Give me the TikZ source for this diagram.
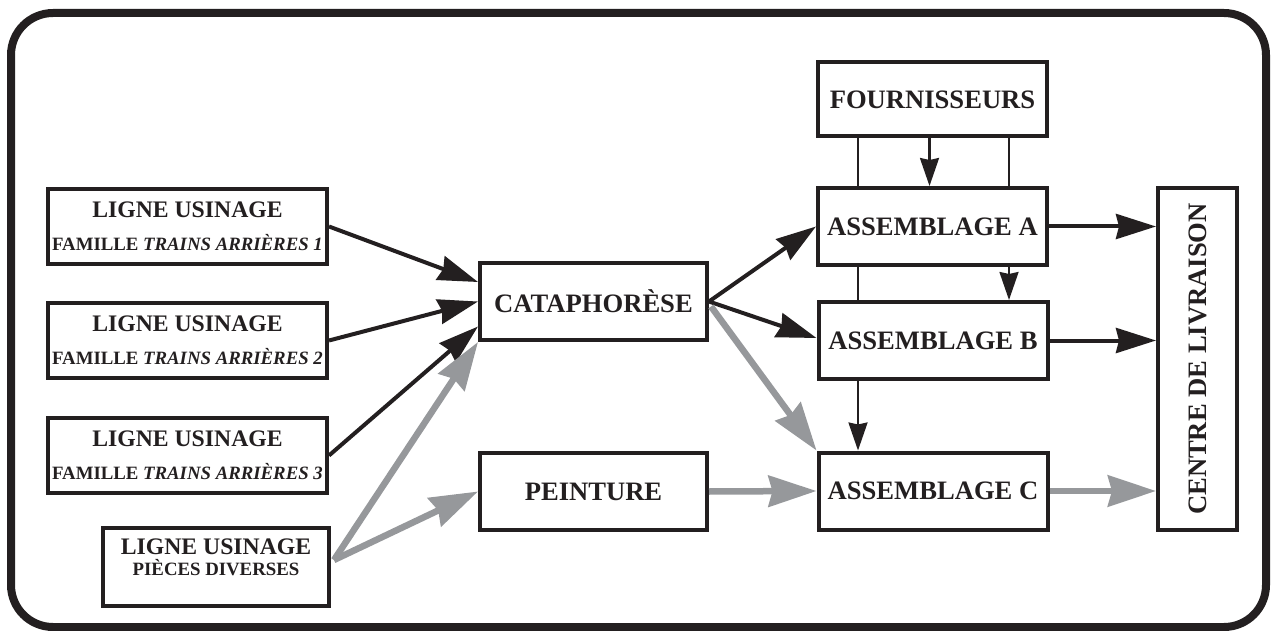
\documentclass[tikz,border=0pt]{standalone}
\usepackage{fontspec}
\usepackage{graphicx}
\setmainfont{Liberation Serif}
\usetikzlibrary{arrows.meta,backgrounds}

\definecolor{flowgray}{RGB}{150,152,155}
\definecolor{ink}{RGB}{35,31,32}

\tikzset{
  box/.style={draw=ink, line width=4pt, fill=white, inner sep=0pt,
    font=\bfseries\fontsize{26.6}{30}\selectfont, text=ink},
  linebox/.style={box, minimum width=279pt, minimum height=75pt, align=center,
    font=\bfseries\fontsize{23.7}{33}\selectfont},
  blackflow/.style={draw=ink, line width=4pt,
    -{Stealth[length=40pt,width=25pt,inset=3pt]}},
  grayflow/.style={draw=flowgray, line width=6.5pt,
    -{Stealth[length=48pt,width=31pt,inset=4pt]}},
  supply/.style={draw=ink, line width=2.2pt},
  supplyarrow/.style={supply, -{Stealth[length=28pt,width=19pt,inset=2pt]}}
}
\newcommand{\subline}[1]{{\fontsize{18.8}{33}\selectfont #1}}

\begin{document}
\begin{tikzpicture}[x=1pt, y=-1pt]
\useasboundingbox (0,0) rectangle (1272,631);
\draw[ink, line width=8pt, rounded corners=42pt] (11,13) rectangle (1266,627);

% machining lines
\node[linebox] (l1) at (187.5,226.5) {LIGNE USINAGE\\\subline{FAMILLE \textit{TRAINS ARRIÈRES 1}}};
\node[linebox] (l2) at (187.5,340.5) {LIGNE USINAGE\\\subline{FAMILLE \textit{TRAINS ARRIÈRES 2}}};
\node[linebox] (l3) at (187.5,455.5) {LIGNE USINAGE\\\subline{FAMILLE \textit{TRAINS ARRIÈRES 3}}};
\node[linebox, minimum width=226pt, minimum height=78pt,
  font=\bfseries\fontsize{23.7}{21}\selectfont] (l4) at (216,567)
  {LIGNE USINAGE\\{\fontsize{18.8}{21}\selectfont PIÈCES DIVERSES}\rule[-20pt]{0pt}{0pt}};

% surface treatment
\node[box, minimum width=227pt, minimum height=77pt] (cata) at (593.5,301.5) {CATAPHORÈSE};
\node[box, minimum width=227pt, minimum height=77pt] (peint) at (593.5,491.5) {PEINTURE};

% suppliers and assembly
\node[box, minimum width=229pt, minimum height=74pt] (four) at (932.5,99.5) {FOURNISSEURS};
\node[box, minimum width=229pt, minimum height=77pt] (asa) at (932.5,226.5) {ASSEMBLAGE A};
\node[box, minimum width=229pt, minimum height=77pt] (asb) at (933,340.5) {ASSEMBLAGE B};
\node[box, minimum width=229pt, minimum height=77pt] (asc) at (933,491) {ASSEMBLAGE C};

% delivery
\node[box, minimum width=79pt, minimum height=342pt] (centre) at (1197.5,359)
  {\rotatebox{90}{CENTRE DE LIVRAISON}};

% supplier feeds, passing behind the assembly boxes
\begin{scope}[on background layer]
  \draw[supplyarrow] ([xshift=-74.5pt]four.south) -- ([xshift=-74.5pt]four.south |- asc.north);
  \draw[supplyarrow] ([xshift=76.5pt]four.south) -- ([xshift=76.5pt]four.south |- asb.north);
\end{scope}
\draw[supplyarrow] ([xshift=-3pt]four.south) -- ([xshift=-3pt]asa.north);

% flows into cataphoresis
\draw[blackflow] (l1.east) -- ([yshift=19.5pt]cata.west);
\draw[blackflow] (l2.east) -- (cata.west);
\draw[blackflow] (l3.east) -- ([yshift=-25pt]cata.west);
\draw[grayflow] ([xshift=3pt,yshift=7pt]l4.east) -- (cata.south west);
\draw[grayflow] ([xshift=3pt,yshift=7pt]l4.east) -- (peint.west);

% flows into assembly
\draw[blackflow] (cata.east) -- (asa.west);
\draw[blackflow] (cata.east) -- ([yshift=2.5pt]asb.west);
\draw[grayflow] ([xshift=2pt,yshift=-5pt]cata.east) -- (asc.north west);
\draw[grayflow] (peint.east) -- (asc.west);

% flows into delivery
\draw[blackflow] (asa.east) -- (centre.west |- asa.east);
\draw[blackflow] (asb.east) -- (centre.west |- asb.east);
\draw[grayflow] (asc.east) -- (centre.west |- asc.east);
\end{tikzpicture}
\end{document}
